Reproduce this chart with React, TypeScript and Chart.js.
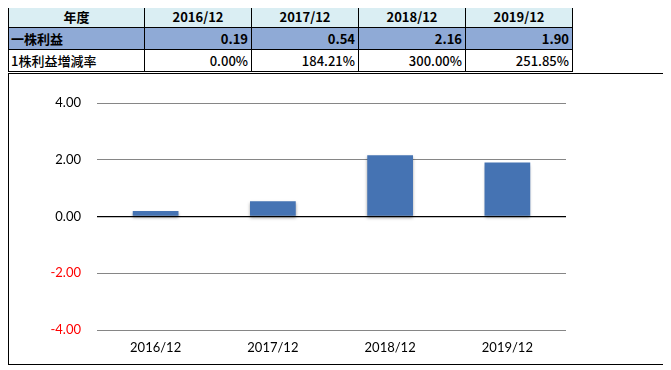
import React, { useEffect, useRef } from "react";
import { Chart, registerables } from "chart.js";

Chart.register(...registerables);

const categories = ["2016/12", "2017/12", "2018/12", "2019/12"];
const eps = [0.19, 0.54, 2.16, 1.9];
const epsLabels = ["0.19", "0.54", "2.16", "1.90"];
const growthLabels = ["0.00%", "184.21%", "300.00%", "251.85%"];
const yTicks = [-4, -2, 0, 2, 4];

const shadowPlugin = {
  id: "barShadow",
  beforeDatasetsDraw(chart: any) {
    const ctx = chart.ctx;
    ctx.save();
    ctx.shadowColor = "rgba(0,0,0,0.35)";
    ctx.shadowBlur = 3;
    ctx.shadowOffsetX = 0;
    ctx.shadowOffsetY = 2;
  },
  afterDatasetsDraw(chart: any) {
    chart.ctx.restore();
  },
};

const cellBase: React.CSSProperties = {
  border: "1px solid #000",
  padding: "0 3px",
  height: 21,
  fontSize: 13,
  lineHeight: "21px",
  whiteSpace: "nowrap",
};

export default function App() {
  const ref = useRef<HTMLCanvasElement | null>(null);
  useEffect(() => {
    if (!ref.current) return;
    const chart = new Chart(ref.current, {
      type: "bar",
      data: {
        labels: categories,
        datasets: [
          {
            data: eps,
            backgroundColor: "#4573B3",
            borderWidth: 0,
            barPercentage: 0.39,
            categoryPercentage: 1,
          },
        ],
      },
      plugins: [shadowPlugin],
      options: {
        animation: false,
        responsive: false,
        maintainAspectRatio: false,
        layout: { padding: { top: 29, right: 99, left: 0, bottom: 0 } },
        plugins: { legend: { display: false }, tooltip: { enabled: false } },
        scales: {
          x: {
            grid: { display: false, drawTicks: false },
            border: { display: false },
            ticks: {
              color: "#000",
              padding: 10,
              font: { family: "Lato", size: 13 },
            },
            afterFit(scale: any) {
              scale.height = 34;
            },
          },
          y: {
            min: -4,
            max: 4,
            afterBuildTicks(scale: any) {
              scale.ticks = yTicks.map((v) => ({ value: v }));
            },
            grid: {
              drawTicks: false,
              color: (c: any) => (c.tick && c.tick.value === 0 ? "#000" : "#868686"),
              lineWidth: (c: any) => (c.tick && c.tick.value === 0 ? 1.3 : 1),
            },
            border: { display: false },
            ticks: {
              padding: 16,
              color: (c: any) => (c.tick && c.tick.value < 0 ? "#FF0000" : "#000"),
              font: { family: "Lato", size: 13 },
              callback: (v: any) => Number(v).toFixed(2),
            },
            afterFit(scale: any) {
              scale.width = 88;
            },
          },
        },
      },
    });
    return () => chart.destroy();
  }, []);

  const tableFont = '"Noto Sans CJK JP", sans-serif';
  return (
    <div style={{ position: "relative", width: 671, height: 362 }}>
      <table
        style={{
          position: "absolute",
          left: 0,
          top: -3,
          borderCollapse: "collapse",
          fontFamily: tableFont,
          width: 565,
          tableLayout: "fixed",
        }}
      >
        <colgroup>
          <col style={{ width: 136 }} />
          <col style={{ width: 107 }} />
          <col style={{ width: 107 }} />
          <col style={{ width: 107 }} />
          <col style={{ width: 107 }} />
        </colgroup>
        <tbody>
          <tr style={{ background: "#DAEEF3", fontWeight: 700 }}>
            <td style={{ ...cellBase, textAlign: "center" }}>年度</td>
            {categories.map((c) => (
              <td key={c} style={{ ...cellBase, textAlign: "center" }}>
                {c}
              </td>
            ))}
          </tr>
          <tr style={{ background: "#8FAAD6", fontWeight: 700 }}>
            <td style={{ ...cellBase, textAlign: "left", padding: "0 2px" }}>一株利益</td>
            {epsLabels.map((v, i) => (
              <td key={i} style={{ ...cellBase, textAlign: "right" }}>
                {v}
              </td>
            ))}
          </tr>
          <tr style={{ background: "#FFFFFF", fontWeight: 500 }}>
            <td style={{ ...cellBase, textAlign: "left", padding: "0 2px" }}>1株利益増減率</td>
            {growthLabels.map((v, i) => (
              <td key={i} style={{ ...cellBase, textAlign: "right" }}>
                {v}
              </td>
            ))}
          </tr>
        </tbody>
      </table>
      <div
        style={{
          position: "absolute",
          left: 0,
          top: 65,
          width: 656,
          height: 290,
          border: "1px solid #000",
          background: "#fff",
        }}
      >
        <canvas ref={ref} width={656} height={290} style={{ display: "block" }} />
      </div>
    </div>
  );
}
